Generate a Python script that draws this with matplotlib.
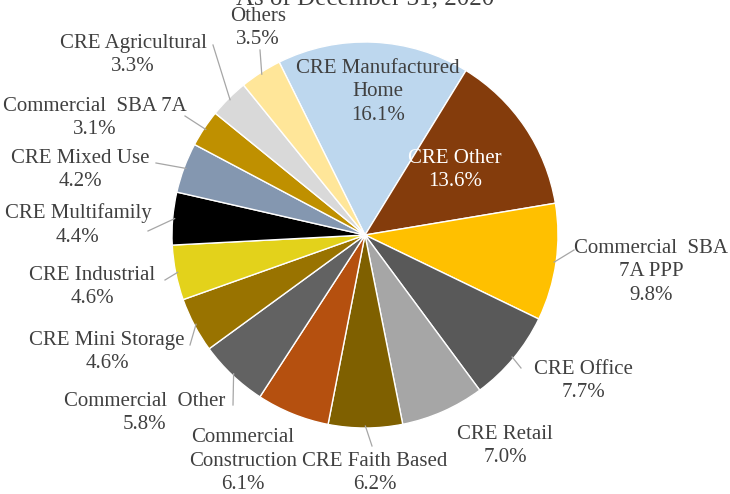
import numpy as np
import matplotlib.pyplot as plt

categories = ['CRE Manufactured\nHome', 'CRE Other', 'Commercial  SBA\n7A PPP', 'CRE Office',
              'CRE Retail', 'CRE Faith Based', 'Commercial\nConstruction', 'Commercial  Other',
              'CRE Mini Storage', 'CRE Industrial', 'CRE Multifamily', 'CRE Mixed Use',
              'Commercial  SBA 7A', 'CRE Agricultural', 'Others']
shares = [16.1, 13.6, 9.8, 7.7, 7.0, 6.2, 6.1, 5.8, 4.6, 4.6, 4.4, 4.2, 3.1, 3.3, 3.5]
colors = ['#BDD7EE', '#843C0C', '#FFC000', '#595959', '#A6A6A6', '#7F6000', '#B5500F',
          '#626262', '#997300', '#E3D21B', '#000000', '#8497B0', '#BF9000', '#D9D9D9', '#FFE699']
title = 'As of December 31, 2020'

W, H = 730, 494
CX, CY, R = 365, 235, 193

# label centre and leader start in image pixels (None = no leader)
label_px = [(378, 92), (455, 170), (651, 272), (583, 381), (505, 446), (375, 473),
            (243, 461), (145, 413), (107, 352), (92, 287), (78, 225), (80, 170),
            (95, 118), (133, 55), (258, 28)]
leader_px = [None, None, (574, 250), (521, 368), None, (372, 446), None, (233, 405),
             (190, 345), (165, 280), (148, 231), (156, 163), (185, 116), (213, 45), (260, 50)]


def to_data(p):
    return (p[0] - CX) / R, (CY - p[1]) / R


plt.rcParams['font.family'] = ['Liberation Serif', 'DejaVu Serif']
fig = plt.figure(figsize=(W / 100, H / 100), dpi=100)
ax = fig.add_axes([(CX - R) / W, (H - CY - R) / H, 2 * R / W, 2 * R / H])

wedges, _ = ax.pie(shares, colors=colors, startangle=116.4, counterclock=False, radius=1,
                   wedgeprops=dict(edgecolor='white', linewidth=1.0))
ax.set_xlim(-1, 1)
ax.set_ylim(-1, 1)
ax.axis('off')

txt_color = '#404040'
for i, (w, name, val) in enumerate(zip(wedges, categories, shares)):
    x, y = to_data(label_px[i])
    col = 'white' if name == 'CRE Other' else txt_color
    ax.text(x, y, f'{name}\n{val:.1f}%', ha='center', va='center', fontsize=15,
            color=col, linespacing=1.35, clip_on=False)
    if leader_px[i] is not None:
        mid = np.deg2rad((w.theta1 + w.theta2) / 2)
        ex, ey = np.cos(mid) * 0.99, np.sin(mid) * 0.99
        sx, sy = to_data(leader_px[i])
        ax.plot([sx, ex], [sy, ey], color='#A6A6A6', lw=0.9, clip_on=False)

fig.text(CX / W, 1 - 5 / H, title, ha='center', va='baseline', fontsize=18, color='#404040')

fig.savefig('out.png', dpi=100, facecolor='white')
